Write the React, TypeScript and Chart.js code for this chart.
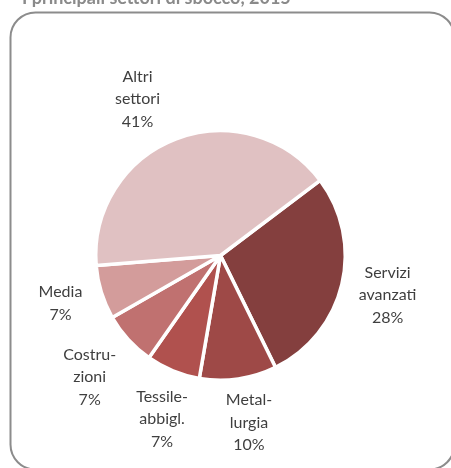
import React, { useEffect, useRef } from "react";
import { Chart, registerables } from "chart.js";

Chart.register(...registerables);

const titleText = "I principali settori di sbocco, 2015";
const categories = ["Servizi avanzati", "Metallurgia", "Tessile-abbigliamento", "Costruzioni", "Media", "Altri settori"];
const labelLines = [["Servizi", "avanzati"], ["Metal-", "lurgia"], ["Tessile-", "abbigl."], ["Costru-", "zioni"], ["Media"], ["Altri", "settori"]];
const shares = [28, 10, 7, 7, 7, 41];
const sliceColors = ["#843F3E", "#9E4947", "#B0514E", "#C07170", "#D39C9B", "#E0C1C2"];
// per-label nudge (px) from the default outside position
const labelNudge = [[0, 0], [4, -3], [7, 5], [-4, 6], [4, -3], [-22, 4]];

const FONT = "Lato, 'Open Sans', sans-serif";

const decorPlugin = {
  id: "decor",
  beforeDraw(chart: any) {
    const ctx = chart.ctx;
    ctx.save();
    ctx.strokeStyle = "#8c8c8c";
    ctx.lineWidth = 2;
    ctx.beginPath();
    (ctx as any).roundRect(10.5, 12.5, 444, 457, 25);
    ctx.stroke();
    ctx.fillStyle = "#8a8a8a";
    ctx.font = "bold 18px " + FONT;
    ctx.textBaseline = "alphabetic";
    ctx.textAlign = "left";
    ctx.fillText(titleText, 22, 4);
    ctx.restore();
  },
  afterDraw(chart: any) {
    const ctx = chart.ctx;
    const meta = chart.getDatasetMeta(0);
    ctx.save();
    ctx.fillStyle = "#3f3f3f";
    ctx.font = "16px " + FONT;
    ctx.textAlign = "center";
    ctx.textBaseline = "middle";
    const lh = 22.5;
    meta.data.forEach((arc: any, i: number) => {
      const p = arc.getProps(["x", "y", "startAngle", "endAngle", "outerRadius"], true);
      const mid = (p.startAngle + p.endAngle) / 2;
      const d = p.outerRadius + 47;
      const cx = p.x + Math.cos(mid) * d + labelNudge[i][0];
      const cy = p.y + Math.sin(mid) * d + labelNudge[i][1];
      const lines = [...labelLines[i], shares[i] + "%"];
      const top = cy - ((lines.length - 1) * lh) / 2;
      lines.forEach((t, k) => ctx.fillText(t, cx, top + k * lh));
    });
    ctx.restore();
  },
};

export default function App() {
  const ref = useRef<HTMLCanvasElement | null>(null);
  useEffect(() => {
    if (!ref.current) return;
    const chart = new Chart(ref.current, {
      type: "pie",
      data: {
        labels: categories,
        datasets: [
          {
            data: shares,
            backgroundColor: sliceColors,
            borderColor: "#ffffff",
            borderWidth: 3.5,
          },
        ],
      },
      options: {
        responsive: false,
        animation: false,
        rotation: 53,
        layout: { padding: { left: 94, right: 104, top: 129, bottom: 86 } },
        plugins: {
          legend: { display: false },
          tooltip: { enabled: false },
          title: { display: false },
        },
      },
      plugins: [decorPlugin],
    });
    return () => chart.destroy();
  }, []);
  return (
    <div style={{ position: "absolute", left: 0, top: 0, width: 451, height: 468, background: "#fff" }}>
      <canvas ref={ref} width={451} height={468} style={{ display: "block" }} />
    </div>
  );
}
